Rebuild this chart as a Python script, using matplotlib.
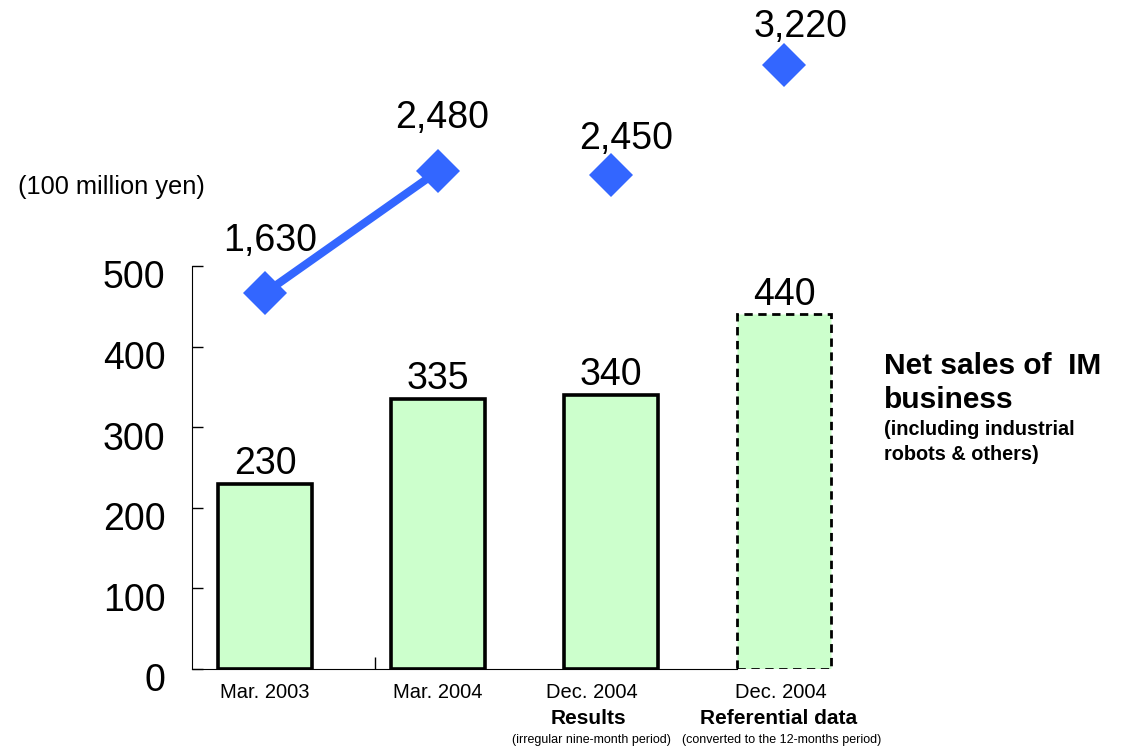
import matplotlib.pyplot as plt
from matplotlib.transforms import ScaledTranslation

plt.rcParams['font.family'] = ['Liberation Sans', 'DejaVu Sans']

# Net sales of IM business (100 million yen) and the second series shown as diamonds
periods = ['Mar. 2003', 'Mar. 2004', 'Dec. 2004', 'Dec. 2004']
period_notes = ['', '', 'Results', 'Referential data']
period_subnotes = ['', '', '(irregular nine-month period)',
                   '(converted to the 12-months period)']
im_sales = [230, 335, 340, 440]
upper_values = [1630, 2480, 2450, 3220]

bar_color = '#ccffcc'
diamond_color = '#3366ff'

fig = plt.figure(figsize=(11.29, 7.5), dpi=100)
ax = fig.add_axes([192 / 1129, 81 / 750, 4.022 * 173 / 1129, 669 / 750])

x = list(range(len(im_sales)))
bars = ax.bar(x, im_sales, width=0.54, color=bar_color, edgecolor='black',
              linewidth=2.6, zorder=2)
# the last bar is the converted (referential) figure
bars[-1].set_linestyle((0, (3, 2)))
bars[-1].set_linewidth(2.0)

for xi, v in zip(x, im_sales):
    ax.annotate(f'{v}', (xi, v), xytext=(0, 7), textcoords='offset points',
                ha='center', va='baseline', fontsize=27)

ax.set_xlim(-0.422, 3.6)
ax.set_ylim(0, 830)
ax.set_yticks(range(0, 501, 100))
ax.tick_params(axis='y', direction='in', length=8, width=1, pad=19, labelsize=27)
for lab in ax.get_yticklabels():
    lab.set_transform(lab.get_transform() +
                      ScaledTranslation(0, -6 / 72, fig.dpi_scale_trans))

ax.set_xticks([])
ax.set_xticks([0.635], minor=True)
ax.tick_params(axis='x', which='minor', direction='in', length=9, width=1)

for side in ['top', 'right']:
    ax.spines[side].set_visible(False)
ax.spines['left'].set_bounds(0, 500)
ax.spines['bottom'].set_bounds(-0.422, 2.73)

# category labels under the axis; the third group sits a little to the left
label_shift = [0, 0, -14, -2]
trans = ax.get_xaxis_transform()
for xi, name, note, sub, dx in zip(x, periods, period_notes, period_subnotes,
                                   label_shift):
    ax.annotate(name, (xi, 0), xycoords=trans, xytext=(dx, -17),
                textcoords='offset points', ha='center', va='center',
                fontsize=14.5)
    if note:
        ax.annotate(note, (xi, 0), xycoords=trans, xytext=(dx - 2, -36),
                    textcoords='offset points', ha='center', va='center',
                    fontsize=15, fontweight='bold')
    if sub:
        ax.annotate(sub, (xi, 0), xycoords=trans, xytext=(dx, -51),
                    textcoords='offset points', ha='center', va='center',
                    fontsize=9)

# second series on its own hidden scale
ax2 = ax.twinx()
ax2.set_ylim(-992, 3673)
ax2.axis('off')
ax2.plot(x[:2], upper_values[:2], color=diamond_color, linewidth=5.8,
         solid_capstyle='butt', zorder=3)
ax2.plot(x, upper_values, linestyle='none', marker='D', markersize=22,
         color=diamond_color, markeredgewidth=0, zorder=4)

label_offsets = [(4, 30), (3, 31), (11, 19), (12, 20)]
for xi, v, off in zip(x, upper_values, label_offsets):
    ax2.annotate(f'{v:,}', (xi, v), xytext=off, textcoords='offset points',
                 ha='center', va='baseline', fontsize=27, annotation_clip=False)

fig.text(111 / 1129, 1 - 187 / 750, '(100 million yen)', ha='center',
         va='center', fontsize=18.3)

fig.text(884 / 1129, 1 - 374 / 750, 'Net sales of  IM', ha='left',
         va='baseline', fontsize=21.5, fontweight='bold')
fig.text(884 / 1129, 1 - 408 / 750, 'business', ha='left',
         va='baseline', fontsize=21.5, fontweight='bold')
fig.text(884 / 1129, 1 - 435 / 750, '(including industrial', ha='left',
         va='baseline', fontsize=14.3, fontweight='bold')
fig.text(884 / 1129, 1 - 460 / 750, 'robots & others)', ha='left',
         va='baseline', fontsize=14.3, fontweight='bold')

fig.savefig('out.png', dpi=100)
